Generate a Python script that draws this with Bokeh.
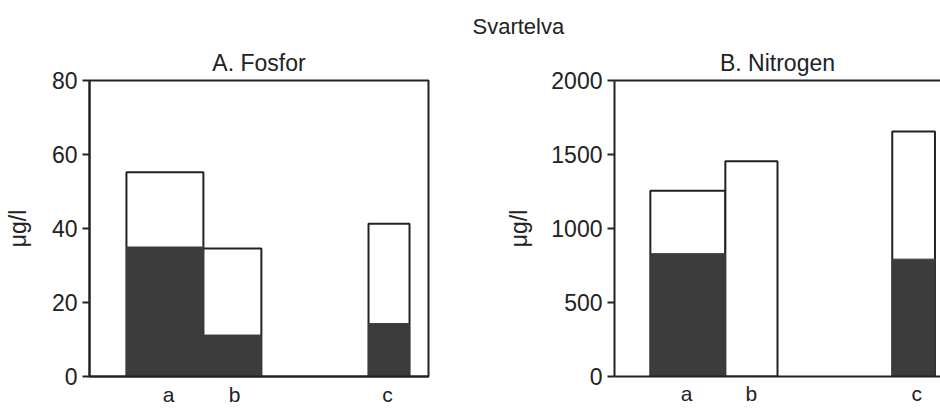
from bokeh.plotting import figure
from bokeh.layouts import row
from bokeh.models import FixedTicker, LinearAxis, Title, Range1d
from bokeh.embed import file_html
from bokeh.resources import INLINE

# ---- data ----
main_title = "Svartelva"
unit_label = "μg/l"
categories = ["a", "b", "c"]

# A. Fosfor
fos_title = "A. Fosfor"
fos_left = [1.09, 3.36, 8.23]
fos_right = [3.36, 5.07, 9.44]
fos_label_pos = [2.33, 4.28, 8.79]
fos_total = [55.2, 34.6, 41.3]
fos_dark = [35.0, 11.2, 14.3]
fos_yticks = [0, 20, 40, 60, 80]

# B. Nitrogen
nit_title = "B. Nitrogen"
nit_left = [1.10, 3.40, 8.52]
nit_right = [3.40, 5.00, 9.83]
nit_label_pos = [2.21, 4.20, 9.27]
nit_total = [1255, 1455, 1655]
nit_dark = [830, 0, 793]
nit_yticks = [0, 500, 1000, 1500, 2000]

FONT = "Liberation Sans"
INK = "#222222"
DARK = "#3c3c3c"


def make_panel(title, left, right, label_pos, total, dark, yticks, ymax, xmax,
               width, border_left, border_right, border_top, border_bottom,
               full_outline, title_offset, ylabel_standoff, xlabel_standoff):
    p = figure(width=width, height=408, output_backend="svg", toolbar_location=None,
               x_range=Range1d(0, xmax), y_range=Range1d(0, ymax),
               min_border_left=border_left, min_border_right=border_right,
               min_border_top=border_top, min_border_bottom=border_bottom,
               x_axis_type=None, y_axis_type=None, title=None)
    p.background_fill_color = "white"
    p.border_fill_color = "white"
    p.xgrid.visible = False
    p.ygrid.visible = False
    if full_outline:
        p.outline_line_color = INK
        p.outline_line_width = 2
    else:
        p.outline_line_color = None
        top = LinearAxis(ticker=FixedTicker(ticks=[]), axis_line_width=2, axis_line_color=INK,
                         major_tick_out=0, major_tick_in=0, minor_tick_out=0, minor_tick_in=0,
                         major_label_standoff=0, axis_label_standoff=0)
        p.add_layout(top, "above")

    # white (total) bars, then dark portions
    p.quad(left=left, right=right, bottom=[0] * len(total), top=total,
           fill_color="white", line_color=INK, line_width=2)
    p.quad(left=left, right=right, bottom=[0] * len(dark), top=dark,
           fill_color=DARK, line_color=DARK, line_width=1)

    yax = LinearAxis(ticker=FixedTicker(ticks=yticks), axis_label=unit_label,
                     axis_line_width=2, axis_line_color=INK,
                     major_tick_out=7, major_tick_in=0, major_tick_line_width=2,
                     major_tick_line_color=INK, minor_tick_out=0, minor_tick_in=0,
                     major_label_standoff=5, axis_label_standoff=ylabel_standoff,
                     major_label_text_font=FONT, major_label_text_font_size="23px",
                     major_label_text_color=INK,
                     axis_label_text_font=FONT, axis_label_text_font_size="23px",
                     axis_label_text_font_style="normal", axis_label_text_color=INK)
    p.add_layout(yax, "left")

    xax = LinearAxis(ticker=FixedTicker(ticks=label_pos),
                     major_label_overrides={pos: c for pos, c in zip(label_pos, categories)},
                     axis_line_width=2, axis_line_color=INK,
                     major_tick_out=0, major_tick_in=0, minor_tick_out=0, minor_tick_in=0,
                     major_label_standoff=xlabel_standoff,
                     major_label_text_font=FONT, major_label_text_font_size="21px",
                     major_label_text_color=INK)
    p.add_layout(xax, "below")

    p.add_layout(Title(text=title, align="center", offset=title_offset, standoff=10,
                       text_font=FONT, text_font_size="23px", text_font_style="normal",
                       text_color=INK), "above")
    return p


p1 = make_panel(fos_title, fos_left, fos_right, fos_label_pos, fos_total, fos_dark,
                fos_yticks, 80, 10, 470, 89, 42, 78, 30, True, -4, 18, 6)
p2 = make_panel(nit_title, nit_left, nit_right, nit_label_pos, nit_total, nit_dark,
                nit_yticks, 2000, 10, 470, 144, 0, 80, 29, False, 3, 16, 5)
p2.add_layout(Title(text=main_title, align="left", offset=-142, standoff=8,
                    text_font=FONT, text_font_size="22px", text_font_style="normal",
                    text_color=INK), "above")

layout = row(p1, p2)
open("out.html", "w").write(file_html(layout, INLINE))
